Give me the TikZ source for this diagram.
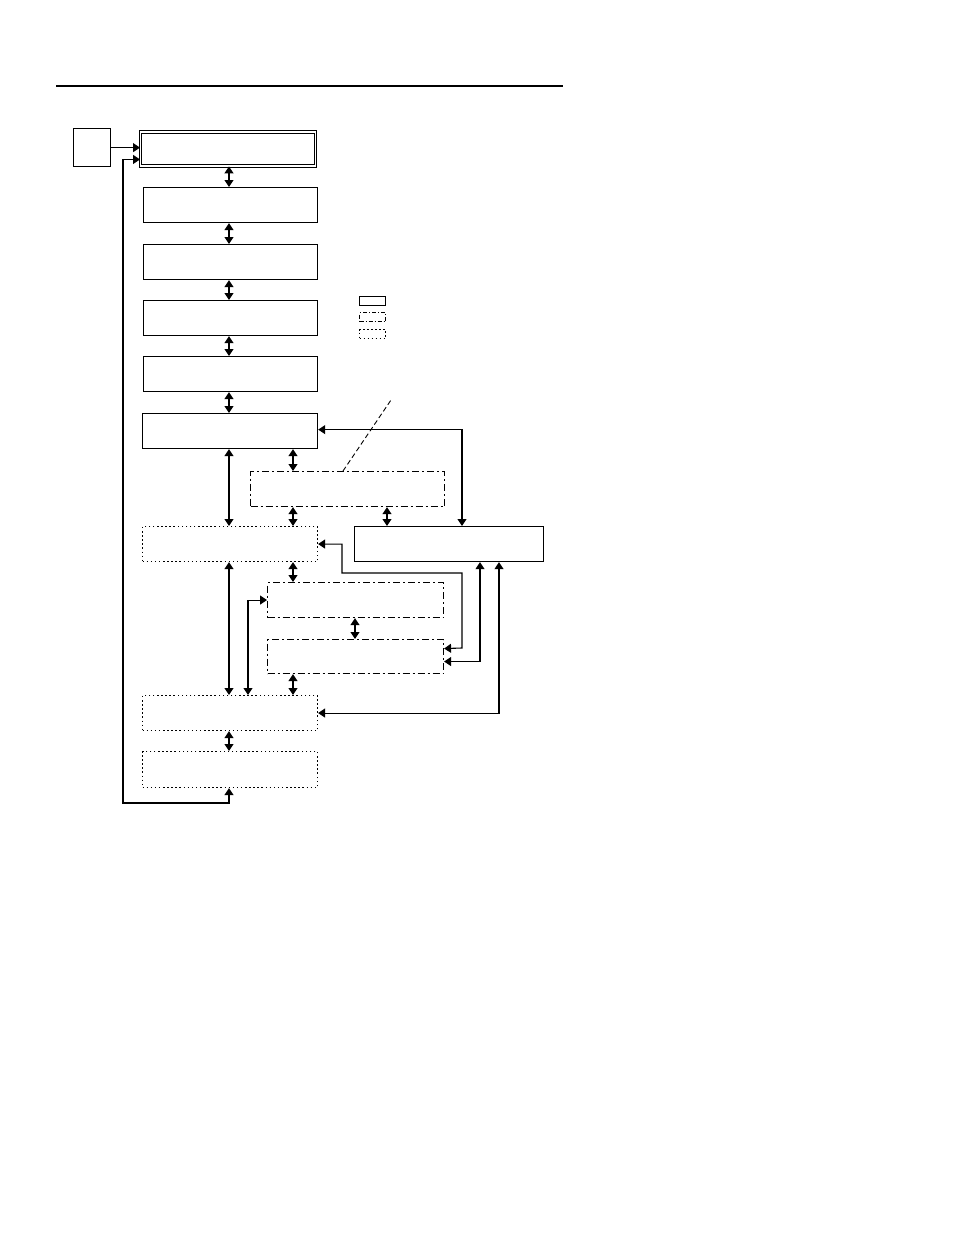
\documentclass[tikz,border=0pt]{standalone}
\usetikzlibrary{arrows.meta,calc}
\begin{document}
\begin{tikzpicture}[x=1pt,y=-1pt,
  ln/.style={line width=1.1pt},
  tip/.tip={Triangle[length=7pt,width=9pt]},
  dbl/.style={ln,tip-tip},
  sgl/.style={ln,-tip},
  box/.style={draw,line width=1.2pt,anchor=north west,inner sep=0pt,minimum width=175pt,minimum height=35pt},
  solidbox/.style={box},
  dblbox/.style={box,double,double distance=1.8pt,line width=0.9pt},
  dashdotbox/.style={box,line width=1.1pt,dash pattern=on 7pt off 3pt on 2pt off 3pt},
  dotbox/.style={box,line width=1.1pt,dash pattern=on 1.5pt off 2.6pt},
  leg/.style={draw,line width=1pt,inner sep=0pt,minimum width=26pt,minimum height=9pt,anchor=north west}
]
\useasboundingbox (0,0) rectangle (954,1235);
\draw[line width=2pt] (56,86) -- (563,86);

% nodes
\node[box,minimum width=37pt,minimum height=38pt] (s0) at (73,128) {};
\node[dblbox,minimum width=175pt,minimum height=34pt] (b1) at (140,131.5) {};
\node[solidbox,minimum width=174pt] (b2) at (143,187) {};
\node[solidbox,minimum width=174pt] (b3) at (143,244) {};
\node[solidbox,minimum width=174pt] (b4) at (143,300) {};
\node[solidbox,minimum width=174pt] (b5) at (143,356) {};
\node[solidbox] (b6) at (142,413) {};
\node[dashdotbox,minimum width=194pt] (b7) at (250,471) {};
\node[dotbox] (b8) at (142,526) {};
\node[solidbox,minimum width=189pt] (b9) at (354,526) {};
\node[dashdotbox,minimum width=176pt] (b10) at (267,582) {};
\node[dashdotbox,minimum width=176pt,minimum height=34pt] (b11) at (267,639) {};
\node[dotbox] (b12) at (142,695) {};
\node[dotbox,minimum height=36pt] (b13) at (142,751) {};

% legend
\node[leg] (lg1) at (359,296) {};
\node[leg,dash pattern=on 4pt off 2pt on 1pt off 2pt] (lg2) at (359,312) {};
\node[leg,dash pattern=on 1.5pt off 2.5pt] (lg3) at (359,329) {};

% helper x-positions
\coordinate (cA) at (229,0);
\coordinate (cB) at (293,0);
\coordinate (cC) at (387,0);
\coordinate (cD) at (355,0);
\coordinate (cE) at (248,0);
\coordinate (cF) at (462,0);
\coordinate (cG) at (480,0);
\coordinate (cH) at (499,0);
\coordinate (cK) at (343,0);
\coordinate (ld) at (391,400);

% vertical chain
\draw[dbl] (b1.south -| cA) -- (b2.north -| cA);
\draw[dbl] (b2.south -| cA) -- (b3.north -| cA);
\draw[dbl] (b3.south -| cA) -- (b4.north -| cA);
\draw[dbl] (b4.south -| cA) -- (b5.north -| cA);
\draw[dbl] (b5.south -| cA) -- (b6.north -| cA);
\draw[dbl] (b6.south -| cA) -- (b8.north -| cA);
\draw[dbl] (b6.south -| cB) -- (b7.north -| cB);
\draw[dbl] (b7.south -| cB) -- (b8.north -| cB);
\draw[dbl] (b7.south -| cC) -- (b9.north -| cC);
\draw[dbl] (b8.south -| cA) -- (b12.north -| cA);
\draw[dbl] (b8.south -| cB) -- (b10.north -| cB);
\draw[dbl] (b10.south -| cD) -- (b11.north -| cD);
\draw[dbl] (b11.south -| cB) -- (b12.north -| cB);
\draw[dbl] (b12.south -| cA) -- (b13.north -| cA);

% routed connectors
\draw[dbl] ([yshift=1.5pt]b6.east) -| (b9.north -| cF);
\draw[dbl] (b12.north -| cE) |- (b10.west);
\draw[dbl] (b8.east) -| (342,573) -| (462,648) -- ([yshift=8pt]b11.east);
\draw[dbl] (b9.south -| cG) |- ([yshift=-5pt]b11.east);
\draw[dbl] (b9.south -| cH) |- (b12.east);
\draw[dbl] (b13.south -| cA) |- (123,803) |- ([yshift=-10.5pt]b1.west);
\draw[sgl] (s0.east) -- (s0.east -| b1.west);

% leader
\draw[line width=0.9pt,dash pattern=on 5pt off 3pt] (b7.north -| cK) -- (ld);
\end{tikzpicture}
\end{document}
